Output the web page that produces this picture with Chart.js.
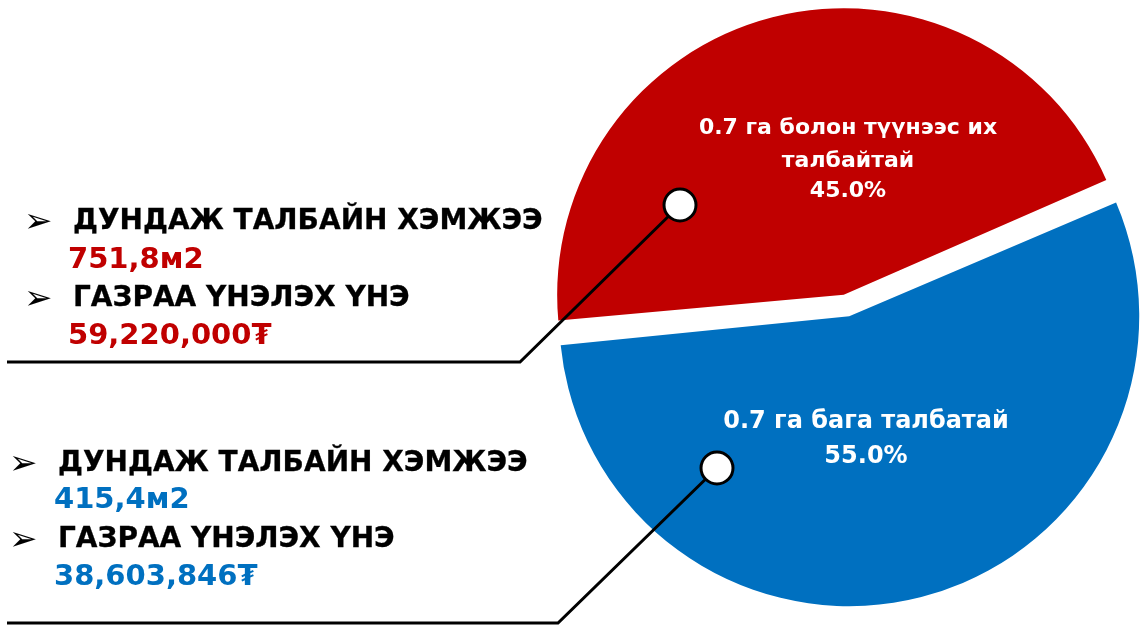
<!DOCTYPE html>
<html>
<head>
<meta charset="utf-8">
<script src="https://cdn.jsdelivr.net/npm/chart.js@4.4.1/dist/chart.umd.min.js"></script>
<style>
  html, body { margin: 0; padding: 0; background: #ffffff; }
  #wrap { position: relative; width: 1141px; height: 627px; overflow: hidden; }
  #c { position: absolute; left: 0; top: 0; }
  .t { position: absolute; white-space: nowrap; font-family: "DejaVu Sans", sans-serif; font-weight: bold; line-height: 1; }
  .head { font-size: 28px; color: #000; -webkit-text-stroke: 0.3px #000; }
  .val { font-size: 29px; }
  .bul { font-size: 34px; color: #000; font-weight: normal; }
  .sl { color: #fff; text-align: center; transform: translateX(-50%); }
</style>
</head>
<body>
<div id="wrap">
  <canvas id="c" width="1141" height="627"></canvas>
  <div id="txt"></div>
</div>
<script>
// ---- data ----
const categories = ['0.7 га болон түүнээс их талбайтай', '0.7 га бага талбатай'];
const sliceLabelLines = [['0.7 га болон түүнээс их', 'талбайтай'], ['0.7 га бага талбатай']];
const shares = [45.0, 55.0];
const avgAreaLabel = 'ДУНДАЖ ТАЛБАЙН ХЭМЖЭЭ';
const priceLabel = 'ГАЗРАА ҮНЭЛЭХ ҮНЭ';
const avgArea = ['751,8м2', '415,4м2'];
const landPrice = ['59,220,000₮', '38,603,846₮'];
const colors = ['#C00000', '#0070C0'];

// ---- layout (annotations) ----
const blockLayout = [
  { bx: 24, tx: 73, vx: 68, rows: [220, 258, 297, 334] },
  { bx: 9, tx: 58, vx: 54, rows: [462, 498, 538, 575] }
];
const leader = [
  { cx: 680, cy: 205, mx: 520, my: 362, ex: 7 },
  { cx: 717, cy: 468, mx: 558, my: 623, ex: 7 }
];
const sliceLabelPos = [
  { x: 848, size: 22, y: [127, 160, 190] },
  { x: 866, size: 24, y: [420, 455] }
];

const txt = document.getElementById('txt');
function addText(cls, text, x, yc, color, size) {
  const d = document.createElement('div');
  d.className = 't ' + cls;
  d.textContent = text;
  d.style.left = x + 'px';
  if (color) d.style.color = color;
  if (size) d.style.fontSize = size + 'px';
  txt.appendChild(d);
  const h = d.getBoundingClientRect().height;
  d.style.top = (yc - h / 2) + 'px';
  return d;
}

blockLayout.forEach((b, i) => {
  addText('bul', '➢', b.bx, b.rows[0]);
  addText('head', avgAreaLabel, b.tx, b.rows[0]);
  addText('val', avgArea[i], b.vx, b.rows[1], colors[i]);
  addText('bul', '➢', b.bx, b.rows[2]);
  addText('head', priceLabel, b.tx, b.rows[2]);
  addText('val', landPrice[i], b.vx, b.rows[3], colors[i]);
});

shares.forEach((s, i) => {
  const lines = sliceLabelLines[i].concat([s.toFixed(1) + '%']);
  lines.forEach((ln, j) => addText('sl', ln, sliceLabelPos[i].x, sliceLabelPos[i].y[j], null, sliceLabelPos[i].size));
});

const leaderPlugin = {
  id: 'leaders',
  afterDraw(chart) {
    const ctx = chart.ctx;
    ctx.save();
    leader.forEach(l => {
      ctx.beginPath();
      ctx.lineWidth = 3;
      ctx.strokeStyle = '#000';
      ctx.lineJoin = 'miter';
      ctx.moveTo(l.cx, l.cy);
      ctx.lineTo(l.mx, l.my);
      ctx.lineTo(l.ex, l.my);
      ctx.stroke();
      ctx.beginPath();
      ctx.arc(l.cx, l.cy, 16, 0, Math.PI * 2);
      ctx.fillStyle = '#fff';
      ctx.fill();
      ctx.lineWidth = 3;
      ctx.stroke();
    });
    ctx.restore();
  }
};

new Chart(document.getElementById('c'), {
  type: 'pie',
  data: {
    labels: categories,
    datasets: [{
      data: shares,
      backgroundColor: colors,
      borderWidth: 0,
      offset: 44,
      radius: 279
    }]
  },
  options: {
    responsive: false,
    animation: false,
    rotation: 264.6,
    layout: { padding: { left: 552, right: 0, top: 0, bottom: 16 } },
    plugins: { legend: { display: false }, tooltip: { enabled: false } }
  },
  plugins: [leaderPlugin]
});
</script>
</body>
</html>
